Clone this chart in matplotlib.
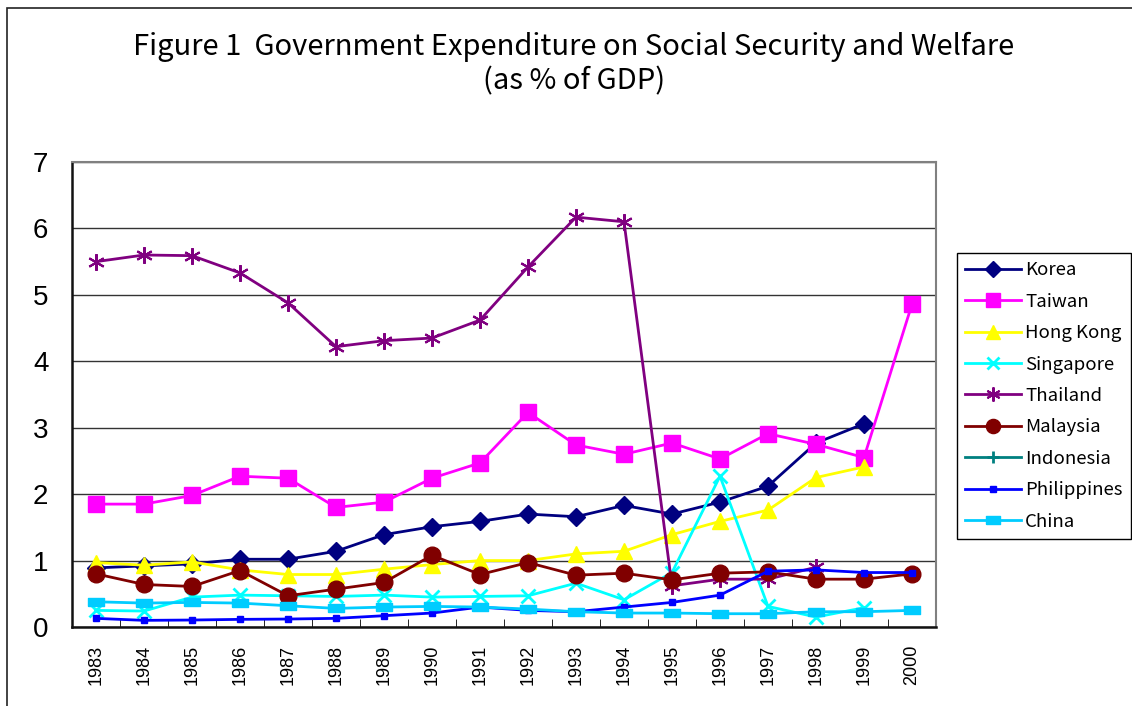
import numpy as np
import matplotlib
matplotlib.use("Agg")
import matplotlib.pyplot as plt
from matplotlib.patches import Rectangle

years = [str(y) for y in range(1983, 2001)]
nan = np.nan

korea = [0.89, 0.92, 0.95, 1.02, 1.02, 1.14, 1.39, 1.51, 1.59, 1.70, 1.66, 1.83, 1.70, 1.88, 2.12, 2.77, 3.06, nan]
taiwan = [1.85, 1.85, 1.98, 2.27, 2.24, 1.80, 1.88, 2.24, 2.47, 3.23, 2.74, 2.60, 2.77, 2.53, 2.91, 2.75, 2.55, 4.86]
hongkong = [0.97, 0.93, 0.98, 0.86, 0.79, 0.79, 0.87, 0.94, 1.00, 1.00, 1.10, 1.14, 1.39, 1.59, 1.76, 2.25, 2.41, nan]
singapore = [0.25, 0.24, 0.45, 0.48, 0.47, 0.46, 0.48, 0.45, 0.46, 0.47, 0.66, 0.41, 0.82, 2.27, 0.31, 0.15, 0.29, nan]
thailand = [5.50, 5.60, 5.59, 5.33, 4.88, 4.22, 4.31, 4.35, 4.62, 5.42, 6.17, 6.10, 0.62, 0.72, 0.72, 0.90, nan, nan]
malaysia = [0.80, 0.64, 0.61, 0.85, 0.47, 0.57, 0.67, 1.08, 0.79, 0.97, 0.78, 0.81, 0.71, 0.81, 0.83, 0.72, 0.72, 0.80]
indonesia = [nan] * 18
philippines = [0.13, 0.10, 0.105, 0.115, 0.12, 0.13, 0.17, 0.21, 0.30, 0.25, 0.23, 0.30, 0.37, 0.48, 0.84, 0.86, 0.82, 0.82]
china = [0.38, 0.36, 0.37, 0.36, 0.32, 0.28, 0.30, 0.31, 0.30, 0.27, 0.23, 0.21, 0.21, 0.20, 0.20, 0.23, 0.23, 0.25]

series_names = ["Korea", "Taiwan", "Hong Kong", "Singapore", "Thailand",
                "Malaysia", "Indonesia", "Philippines", "China"]
series_vals = [korea, taiwan, hongkong, singapore, thailand,
               malaysia, indonesia, philippines, china]

rect = [(-1, -0.5), (1, -0.5), (1, 0.5), (-1, 0.5), (-1, -0.5)]
styles = [
    dict(color="#000080", marker="D", ms=9),
    dict(color="#FF00FF", marker="s", ms=11.5),
    dict(color="#FFFF00", marker="^", ms=12),
    dict(color="#00FFFF", marker="x", ms=10, mew=2),
    dict(color="#800080", marker=(6, 2, 0), ms=12, mew=1.5),
    dict(color="#800000", marker="o", ms=12),
    dict(color="#008080", marker="+", ms=10, mew=2),
    dict(color="#0000FF", marker="s", ms=5),
    dict(color="#00CCFF", marker=rect, ms=12),
]

W, H = 1132, 706
fig = plt.figure(figsize=(W / 100, H / 100), dpi=100)
fig.patch.set_facecolor("white")

# outer chart frame
fig.add_artist(Rectangle((7 / W, -0.01), 1.2, 1 - 8 / H + 0.01, transform=fig.transFigure,
                         fill=False, edgecolor="#222222", linewidth=1.2))

ax = fig.add_axes([72 / W, 1 - 627 / H, (936 - 72) / W, (627 - 162) / H])
x = np.arange(len(years))
for name, vals, st in zip(series_names, series_vals, styles):
    st = dict(st)
    ax.plot(x, vals, label=name, color=st.pop("color"), linewidth=2, **st)

ax.set_xlim(-0.5, len(years) - 0.5)
ax.set_ylim(0, 7)
ax.set_yticks(range(0, 8))
ax.set_yticklabels([str(i) for i in range(0, 8)], fontsize=20, family="Liberation Sans")
ax.set_xticks(x)
ax.set_xticklabels(years, rotation=90, fontsize=13, family="Liberation Sans")
ax.tick_params(axis="x", length=0, pad=13)
ax.tick_params(axis="y", length=0, pad=17)
ax.set_xticks(np.arange(-0.5, len(years)), minor=True)
ax.tick_params(axis="x", which="minor", direction="in", length=6, color="black")
ax.grid(axis="y", color="#333333", linewidth=1)
ax.set_axisbelow(True)
for s in ["left", "bottom"]:
    ax.spines[s].set_color("#111111")
    ax.spines[s].set_linewidth(1.8)
for s in ["top", "right"]:
    ax.spines[s].set_color("#808080")
    ax.spines[s].set_linewidth(1.5)

tfont = ["Noto Sans CJK JP", "DejaVu Sans"]
fig.text(574 / W, 1 - 47 / H, "Figure 1  Government Expenditure on Social Security and Welfare",
         ha="center", va="center", fontsize=21, family=tfont)
fig.text(574 / W, 1 - 81 / H, "(as % of GDP)",
         ha="center", va="center", fontsize=21, family=tfont)

handles, labels = ax.get_legend_handles_labels()
leg = fig.legend(handles, labels, loc="upper left", bbox_to_anchor=(957 / W, 1 - 253 / H),
                 frameon=True, fancybox=False, edgecolor="black", framealpha=1,
                 prop={"family": tfont, "size": 13.4},
                 handlelength=3.0, labelspacing=0.72, borderpad=0.45, handletextpad=0.2,
                 borderaxespad=0, markerscale=0.85)
leg.get_frame().set_linewidth(1)

fig.savefig("out.png", dpi=100)
